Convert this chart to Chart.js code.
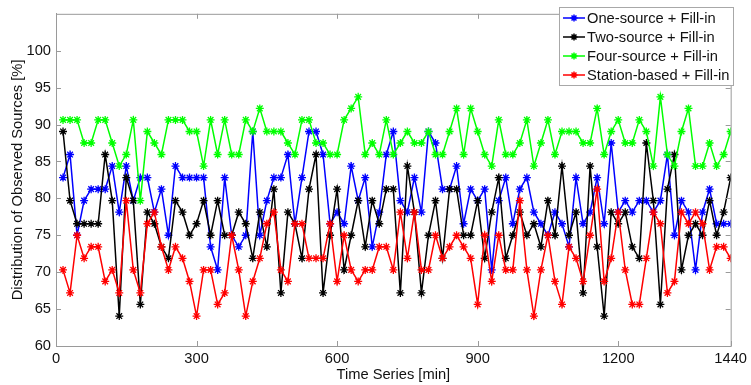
<!DOCTYPE html>
<html>
<head>
<meta charset="utf-8">
<script src="https://cdn.jsdelivr.net/npm/chart.js@4.4.0/dist/chart.umd.min.js"></script>
<style>
  html, body { margin: 0; padding: 0; background: #fff; }
  #wrap { width: 751px; height: 385px; }
</style>
</head>
<body>
<div id="wrap"><canvas id="chart" width="751" height="385"></canvas></div>
<script>
// time axis (minutes), one sample every 15 min
const timeMin = [15,30,45,60,75,90,105,120,135,150,165,180,195,210,225,240,255,270,285,300,
  315,330,345,360,375,390,405,420,435,450,465,480,495,510,525,540,555,570,585,600,
  615,630,645,660,675,690,705,720,735,750,765,780,795,810,825,840,855,870,885,900,
  915,930,945,960,975,990,1005,1020,1035,1050,1065,1080,1095,1110,1125,1140,1155,1170,1185,1200,
  1215,1230,1245,1260,1275,1290,1305,1320,1335,1350,1365,1380,1395,1410,1425,1440];

// % of observed sources per series
const oneSource = [82.81,85.94,75,79.69,81.25,81.25,81.25,84.38,78.13,84.38,
  79.69,82.81,82.81,78.13,81.25,75,84.38,82.81,82.81,82.81,
  82.81,73.44,70.31,82.81,75,73.44,75,89.06,75,79.69,
  82.81,82.81,85.94,76.56,82.81,89.06,89.06,85.94,76.56,78.13,
  76.56,84.38,79.69,82.81,73.44,78.13,85.94,89.06,79.69,78.13,
  82.81,78.13,89.06,87.5,81.25,81.25,84.38,76.56,81.25,79.69,
  81.25,70.31,79.69,82.81,76.56,81.25,82.81,78.13,76.56,75,
  78.13,76.56,73.44,82.81,76.56,78.13,82.81,76.56,87.5,78.13,
  79.69,78.13,79.69,79.69,78.13,79.69,85.94,75,79.69,78.13,
  70.31,78.13,81.25,76.56,76.56,76.56];

const twoSource = [89.06,79.69,76.56,76.56,76.56,76.56,85.94,79.69,64.06,82.81,
  79.69,65.63,78.13,76.56,73.44,71.88,79.69,78.13,75,76.56,
  79.69,75,79.69,75,75,78.13,76.56,71.88,78.13,73.44,
  81.25,67.19,78.13,76.56,71.88,81.25,85.94,67.19,75,81.25,
  70.31,75,79.69,73.44,79.69,76.56,81.25,81.25,67.19,84.38,
  78.13,67.19,75,79.69,71.88,81.25,81.25,75,75,79.69,
  71.88,78.13,82.81,71.88,75,78.13,75,76.56,73.44,79.69,
  75,84.38,75,78.13,67.19,84.38,73.44,64.06,78.13,76.56,
  78.13,73.44,71.88,87.5,79.69,65.63,81.25,85.94,70.31,75,
  76.56,75,79.69,75,78.13,82.81];

const fourSource = [90.63,90.63,90.63,87.5,87.5,90.63,90.63,87.5,84.38,85.94,
  90.63,79.69,89.06,87.5,85.94,90.63,90.63,90.63,89.06,89.06,
  84.38,90.63,85.94,90.63,85.94,85.94,90.63,89.06,92.19,89.06,
  89.06,89.06,87.5,85.94,90.63,90.63,87.5,87.5,85.94,85.94,
  90.63,92.19,93.75,85.94,87.5,85.94,90.63,85.94,87.5,89.06,
  87.5,87.5,89.06,85.94,85.94,89.06,92.19,85.94,92.19,89.06,
  85.94,84.38,90.63,85.94,85.94,87.5,90.63,84.38,87.5,90.63,
  85.94,89.06,89.06,89.06,87.5,87.5,92.19,85.94,89.06,90.63,
  87.5,87.5,90.63,89.06,84.38,93.75,85.94,84.38,89.06,92.19,
  84.38,84.38,87.5,84.38,85.94,89.06];

const stationBased = [70.31,67.19,75,71.88,73.44,73.44,68.75,70.31,67.19,79.69,
  70.31,67.19,76.56,78.13,73.44,70.31,73.44,71.88,68.75,64.06,
  70.31,70.31,65.63,67.19,75,70.31,64.06,68.75,71.88,76.56,
  78.13,70.31,68.75,76.56,76.56,71.88,71.88,71.88,76.56,68.75,
  75,70.31,68.75,70.31,70.31,73.44,73.44,70.31,78.13,71.88,
  78.13,70.31,70.31,75,71.88,73.44,75,73.44,71.88,65.63,
  75,68.75,75,70.31,70.31,79.69,70.31,64.06,70.31,75,
  68.75,65.63,73.44,71.88,68.75,75,81.25,68.75,71.88,78.13,
  70.31,65.63,65.63,71.88,78.13,76.56,67.19,68.75,78.13,76.56,
  78.13,76.56,70.31,73.44,73.44,71.88];

const seriesNames = ['One-source + Fill-in', 'Two-source + Fill-in', 'Four-source + Fill-in', 'Station-based + Fill-in'];
const seriesColors = ['#0000ff', '#000000', '#00ff00', '#ff0000'];
const xTicks = [0, 300, 600, 900, 1200, 1440];
const yTicks = [60, 65, 70, 75, 80, 85, 90, 95, 100];

const FONT = 'Liberation Sans, Arial, sans-serif';
const FSIZE = 14.7;
const axisGray = '#9a9a9a';

function toPoints(vals) {
    return vals.map((v, i) => ({ x: timeMin[i], y: v }));
}

// Kotak sumbu gaya MATLAB + tick ke dalam + legenda di pojok kanan atas
const matlabFrame = {
    id: 'matlabFrame',
    afterDraw(chart) {
        const ctx = chart.ctx;
        const a = chart.chartArea;
        const xs = chart.scales.x, ys = chart.scales.y;
        ctx.save();
        ctx.strokeStyle = axisGray;
        ctx.lineWidth = 1;
        ctx.strokeRect(a.left + 0.5, a.top + 0.5, a.right - a.left, a.bottom - a.top);
        ctx.beginPath();
        xTicks.forEach(v => {
            const px = Math.round(xs.getPixelForValue(v)) + 0.5;
            ctx.moveTo(px, a.bottom); ctx.lineTo(px, a.bottom - 5);
            ctx.moveTo(px, a.top); ctx.lineTo(px, a.top + 5);
        });
        yTicks.forEach(v => {
            const py = Math.round(ys.getPixelForValue(v)) + 0.5;
            ctx.moveTo(a.left, py); ctx.lineTo(a.left + 5, py);
            ctx.moveTo(a.right, py); ctx.lineTo(a.right - 5, py);
        });
        ctx.stroke();

        // legenda
        const bx = 559, by = 7, bw = 174, bh = 78;
        ctx.fillStyle = '#fff';
        ctx.fillRect(bx, by, bw, bh);
        ctx.strokeStyle = '#a8a8a8';
        ctx.strokeRect(bx + 0.5, by + 0.5, bw, bh);
        ctx.font = FSIZE + 'px ' + FONT;
        ctx.textBaseline = 'middle';
        chart.data.datasets.forEach((ds, i) => {
            const cy = by + 11 + i * 19;
            ctx.strokeStyle = ds.borderColor;
            ctx.lineWidth = 1.5;
            ctx.beginPath();
            ctx.moveTo(bx + 4, cy); ctx.lineTo(bx + 26, cy);
            ctx.stroke();
            Chart.helpers.drawPoint(ctx, { pointStyle: 'star', radius: 3.5, borderWidth: 1.3 }, bx + 15, cy);
            ctx.fillStyle = '#111';
            ctx.fillText(ds.label, bx + 28, cy + 1);
        });
        ctx.restore();
    }
};

const ctx = document.getElementById('chart').getContext('2d');
new Chart(ctx, {
    type: 'line',
    data: {
        datasets: [oneSource, twoSource, fourSource, stationBased].map((vals, i) => ({
            label: seriesNames[i],
            data: toPoints(vals),
            borderColor: seriesColors[i],
            backgroundColor: seriesColors[i],
            borderWidth: 1.5,
            pointStyle: 'star',
            pointRadius: 4,
            pointBorderWidth: 1.3,
            pointBorderColor: seriesColors[i],
            tension: 0,
            fill: false,
            order: 4 - i
        }))
    },
    options: {
        responsive: false,
        animation: false,
        devicePixelRatio: 1,
        layout: { padding: { top: 5, right: 16, left: 0, bottom: 0 } },
        plugins: { legend: { display: false }, tooltip: { enabled: false } },
        scales: {
            x: {
                type: 'linear',
                min: 0, max: 1440,
                afterBuildTicks: s => { s.ticks = xTicks.map(v => ({ value: v })); },
                afterFit: s => { s.height = 39; },
                grid: { display: false, drawTicks: false },
                border: { display: true, color: axisGray },
                ticks: { color: '#111', font: { family: FONT, size: FSIZE }, padding: 4, maxRotation: 0,
                         callback: v => String(v) },
                title: { display: true, text: 'Time Series [min]', color: '#111',
                         font: { family: FONT, size: FSIZE }, padding: { top: 0, bottom: 1 } }
            },
            y: {
                min: 60, max: 105,
                afterBuildTicks: s => { s.ticks = yTicks.map(v => ({ value: v })); },
                afterFit: s => { s.width = 56; },
                grid: { display: false, drawTicks: false },
                border: { display: true, color: axisGray },
                ticks: { color: '#111', font: { family: FONT, size: FSIZE }, padding: 5,
                         callback: v => String(v) },
                title: { display: true, text: 'Distribution of Observed Sources [%]', color: '#111',
                         font: { family: FONT, size: FSIZE }, padding: { top: 9, bottom: 0 } }
            }
        }
    },
    plugins: [matlabFrame]
});
</script>
</body>
</html>
